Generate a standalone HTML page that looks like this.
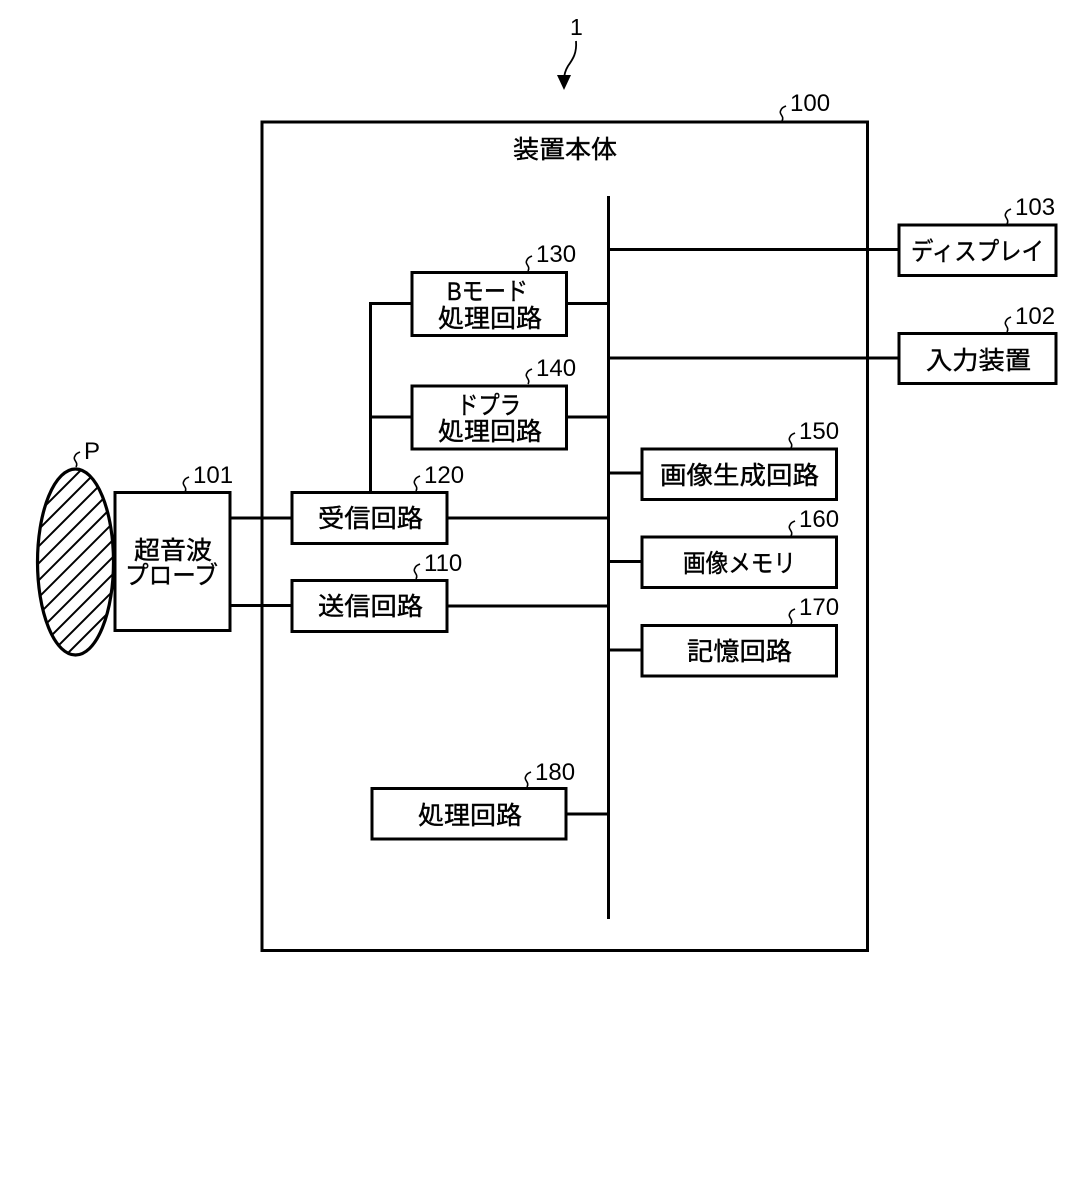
<!DOCTYPE html>
<html><head><meta charset="utf-8"><style>
html,body{margin:0;padding:0;background:#fff;width:1087px;height:1197px;overflow:hidden}
svg{display:block}
.j{font-family:"Liberation Sans","Noto Sans CJK JP",sans-serif;font-size:25px;fill:#000;stroke:#000;stroke-width:.4}
.n{font-family:"Liberation Sans",sans-serif;font-size:24px;fill:#000}
.b{fill:#fff;stroke:#000;stroke-width:3}
.l{stroke:#000;stroke-width:3;fill:none}
.s{stroke:#000;stroke-width:1.6;fill:none}
</style></head><body>
<svg width="1087" height="1197" viewBox="0 0 1087 1197" xmlns="http://www.w3.org/2000/svg">
<defs><clipPath id="c"><ellipse cx="75.5" cy="562" rx="38" ry="93"/></clipPath></defs>
<g clip-path="url(#c)" stroke="#000" stroke-width="2">
<line x1="20" y1="531" x2="120" y2="431"/><line x1="20" y1="548" x2="120" y2="448"/><line x1="20" y1="565" x2="120" y2="465"/>
<line x1="20" y1="582" x2="120" y2="482"/><line x1="20" y1="599" x2="120" y2="499"/><line x1="20" y1="616" x2="120" y2="516"/>
<line x1="20" y1="633" x2="120" y2="533"/><line x1="20" y1="650" x2="120" y2="550"/><line x1="20" y1="667" x2="120" y2="567"/>
<line x1="20" y1="684" x2="120" y2="584"/><line x1="20" y1="701" x2="120" y2="601"/><line x1="20" y1="718" x2="120" y2="618"/><line x1="20" y1="735" x2="120" y2="635"/>
</g>
<ellipse cx="75.5" cy="562" rx="38" ry="93" fill="none" stroke="#000" stroke-width="3.2"/>
<rect class="b" x="262" y="122" width="605.500" height="828.500" style="fill:none"/>
<rect class="b" x="115" y="492.500" width="115" height="138"/>
<line class="l" x1="608.500" y1="196" x2="608.500" y2="919"/>
<path class="l" d="M230 518H292M230 605.500H292M448 518H608M448 606H608M370.500 492V303.500H412M370.500 417H412M567 303.500H608M567 417H608M609 249.500H899M609 358H899M609 473H642M609 561.500H642M609 650H642M567 814H608"/>
<rect class="b" x="292" y="492.500" width="155" height="51"/>
<rect class="b" x="292" y="580.500" width="155" height="51"/>
<rect class="b" x="412" y="272.500" width="154.500" height="63"/>
<rect class="b" x="412" y="386" width="154.500" height="63"/>
<rect class="b" x="642" y="449" width="194.500" height="50.500"/>
<rect class="b" x="642" y="537" width="194.500" height="50.500"/>
<rect class="b" x="642" y="625.500" width="194.500" height="50.500"/>
<rect class="b" x="372" y="788.500" width="194" height="50.500"/>
<rect class="b" x="899" y="225" width="157" height="50.500"/>
<rect class="b" x="899" y="333.500" width="157" height="50"/>
<path class="s" d="M76 467c3-5-4-7-1-11 1-3 3-3 5-4"/>
<path class="s" d="M185 492c3-5-4-7-1-11 1-3 3-3 5-4"/>
<path class="s" d="M782 121c3-5-4-7-1-11 1-3 3-3 5-4"/>
<path class="s" d="M1007 224c3-5-4-7-1-11 1-3 3-3 5-4"/>
<path class="s" d="M1007 332c3-5-4-7-1-11 1-3 3-3 5-4"/>
<path class="s" d="M528 271c3-5-4-7-1-11 1-3 3-3 5-4"/>
<path class="s" d="M528 384c3-5-4-7-1-11 1-3 3-3 5-4"/>
<path class="s" d="M416 491c3-5-4-7-1-11 1-3 3-3 5-4"/>
<path class="s" d="M416 579c3-5-4-7-1-11 1-3 3-3 5-4"/>
<path class="s" d="M791 448c3-5-4-7-1-11 1-3 3-3 5-4"/>
<path class="s" d="M791 536c3-5-4-7-1-11 1-3 3-3 5-4"/>
<path class="s" d="M791 624c3-5-4-7-1-11 1-3 3-3 5-4"/>
<path class="s" d="M527 787c3-5-4-7-1-11 1-3 3-3 5-4"/>
<path d="M576 41c1 12-3 18-8 25-3 5-4 9-4 14" stroke="#000" stroke-width="1.8" fill="none"/>
<path d="M557 75L571 75L564 90Z" fill="#000"/>
<text class="n" x="570" y="35" style="font-size:23px">1</text>
<text class="n" x="790" y="111">100</text>
<text class="n" x="84" y="459">P</text>
<text class="n" x="193" y="483">101</text>
<text class="n" x="1015" y="215">103</text>
<text class="n" x="1015" y="324">102</text>
<text class="n" x="536" y="262">130</text>
<text class="n" x="536" y="376">140</text>
<text class="n" x="424" y="483">120</text>
<text class="n" x="424" y="571">110</text>
<text class="n" x="799" y="439">150</text>
<text class="n" x="799" y="527">160</text>
<text class="n" x="799" y="615">170</text>
<text class="n" x="535" y="780">180</text>
<text class="j" x="513" y="158" textLength="104" lengthAdjust="spacingAndGlyphs">装置本体</text>
<text class="j" x="134" y="559" textLength="78" lengthAdjust="spacingAndGlyphs">超音波</text>
<text class="j" x="125" y="584" textLength="93" lengthAdjust="spacingAndGlyphs">プローブ</text>
<text class="j" x="447" y="300" textLength="81" lengthAdjust="spacingAndGlyphs">Bモード</text>
<text class="j" x="438" y="327" textLength="104" lengthAdjust="spacingAndGlyphs">処理回路</text>
<text class="j" x="457" y="414" textLength="64" lengthAdjust="spacingAndGlyphs">ドプラ</text>
<text class="j" x="438" y="440" textLength="104" lengthAdjust="spacingAndGlyphs">処理回路</text>
<text class="j" x="318" y="527" textLength="105" lengthAdjust="spacingAndGlyphs">受信回路</text>
<text class="j" x="318" y="615" textLength="105" lengthAdjust="spacingAndGlyphs">送信回路</text>
<text class="j" x="660" y="484" textLength="159" lengthAdjust="spacingAndGlyphs">画像生成回路</text>
<text class="j" x="683" y="572" textLength="113" lengthAdjust="spacingAndGlyphs">画像メモリ</text>
<text class="j" x="687" y="660" textLength="105" lengthAdjust="spacingAndGlyphs">記憶回路</text>
<text class="j" x="418" y="824" textLength="104" lengthAdjust="spacingAndGlyphs">処理回路</text>
<text class="j" x="911" y="260" textLength="133" lengthAdjust="spacingAndGlyphs">ディスプレイ</text>
<text class="j" x="926" y="369" textLength="105" lengthAdjust="spacingAndGlyphs">入力装置</text>
</svg>
</body></html>
